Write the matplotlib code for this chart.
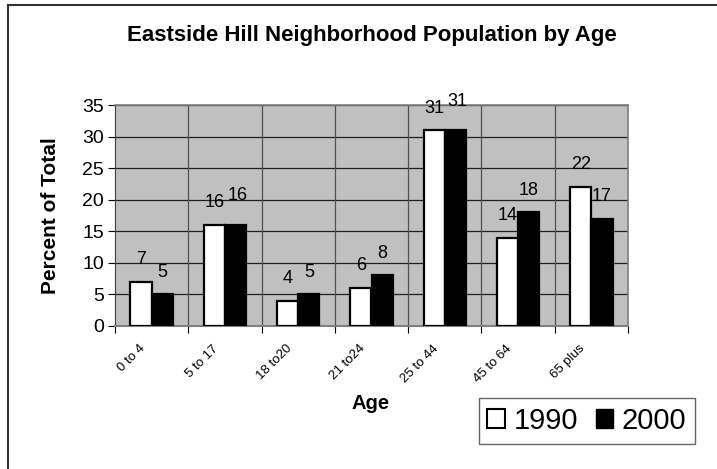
import numpy as np
import matplotlib.pyplot as plt
from matplotlib.lines import Line2D
from matplotlib.patches import Patch

plt.rcParams['font.family'] = ['Liberation Sans', 'DejaVu Sans']

ages = ['0 to 4', '5 to 17', '18 to20', '21 to24', '25 to 44', '45 to 64', '65 plus']
pop_1990 = [7, 16, 4, 6, 31, 14, 22]
pop_2000 = [5, 16, 5, 8, 31, 18, 17]

W, H = 717, 469
fig = plt.figure(figsize=(W / 100, H / 100), dpi=100)
# plot area in pixels: x 115..628, y 105..326
ax = fig.add_axes([115 / W, 1 - 326 / H, (628 - 115) / W, (326 - 105) / H])
ax.set_facecolor('#c0c0c0')

x = np.arange(len(ages))
bw = 0.29
b1 = ax.bar(x - bw / 2, pop_1990, bw, color='white', edgecolor='black', linewidth=1.6, zorder=3)
b2 = ax.bar(x + bw / 2, pop_2000, bw, color='black', edgecolor='black', linewidth=1.6, zorder=3)

# value labels above the bars; the 2000 label goes a bit higher when it would collide
for r, v in zip(b1, pop_1990):
    ax.text(r.get_x() + r.get_width() / 2, v + 2.8, str(v), ha='center', va='baseline',
            fontsize=13, clip_on=False, zorder=4)
for r, v, v0 in zip(b2, pop_2000, pop_1990):
    lift = 1.1 if abs(v - v0) < 1 else 0
    ax.text(r.get_x() + r.get_width() / 2 + 0.03 * (lift > 0), v + 2.8 + lift, str(v), ha='center',
            va='baseline', fontsize=13, clip_on=False, zorder=4)

ax.set_xlim(-0.5, len(ages) - 0.5)
ax.set_ylim(0, 35)
ax.set_yticks(range(0, 36, 5))
ax.tick_params(axis='y', labelsize=14, length=5, direction='out', width=0.8, pad=3)
ax.set_xticks(np.arange(-0.5, len(ages), 1.0))
ax.set_xticklabels([])
ax.tick_params(axis='x', length=5, direction='out', width=0.8)

# rotated category labels
for xi, lab in zip(x, ages):
    ax.annotate(lab, (xi, 0), xytext=(-6, -15), textcoords='offset points', rotation=45,
                ha='right', va='center', rotation_mode='anchor', fontsize=9.5, annotation_clip=False)

for yv in range(5, 36, 5):
    ax.axhline(yv, color='#202020', linewidth=0.9, zorder=1)
for xv in np.arange(0.5, len(ages) - 0.5, 1.0):
    ax.axvline(xv, color='#505050', linewidth=0.9, zorder=1)

for s in ['top', 'right']:
    ax.spines[s].set_color('#808080')
    ax.spines[s].set_linewidth(1.2)
ax.spines['left'].set_color('#404040')
ax.spines['bottom'].set_color('#808080')
ax.spines['bottom'].set_linewidth(1.5)

fig.text(372 / W, 1 - 35 / H, 'Eastside Hill Neighborhood Population by Age', ha='center', va='center',
         fontsize=16, fontweight='bold')
fig.text(51 / W, 1 - 216 / H, 'Percent of Total', rotation=90, ha='center', va='center',
         fontsize=15, fontweight='bold')
fig.text(371 / W, 1 - 403 / H, 'Age', ha='center', va='center', fontsize=14.5, fontweight='bold')

handles = [Patch(facecolor='white', edgecolor='black', linewidth=1.5),
           Patch(facecolor='black', edgecolor='black')]
leg = fig.legend(handles, ['1990', '2000'], ncol=2, loc='center', bbox_to_anchor=(587 / W, 1 - 421 / H),
                 fontsize=21, frameon=True, fancybox=False, edgecolor='#404040', handlelength=0.6,
                 handleheight=0.6, handletextpad=0.3, columnspacing=0.6, borderpad=0.3, borderaxespad=0)
leg.get_frame().set_linewidth(1.0)

# outer chart border (only left and top visible)
fig.add_artist(Line2D([8 / W, 8 / W], [0, 1 - 5 / H], color='#303030', linewidth=1.5))
fig.add_artist(Line2D([8 / W, 1], [1 - 5 / H, 1 - 5 / H], color='#303030', linewidth=1.5))

fig.savefig('out.png', dpi=100)
